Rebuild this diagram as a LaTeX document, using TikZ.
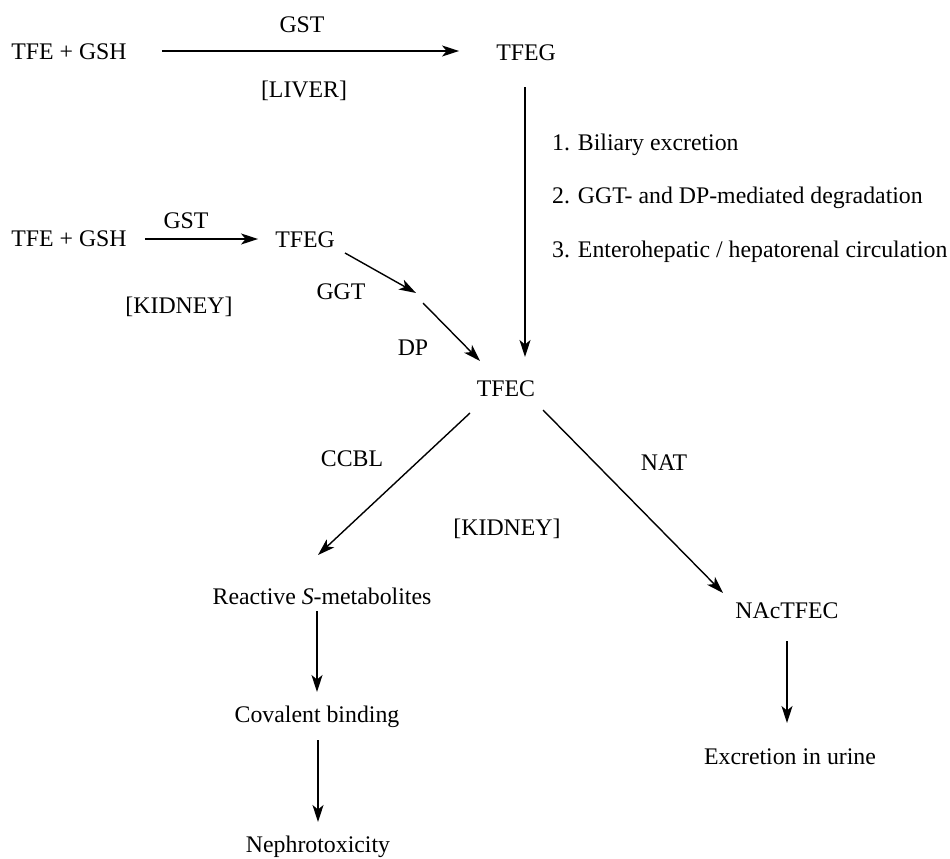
\documentclass[tikz,border=0pt]{standalone}
\usepackage{fontspec}
\setmainfont{Liberation Serif}
\usetikzlibrary{arrows.meta,calc}
\begin{document}
\begin{tikzpicture}[x=1pt,y=-1pt,
  lbl/.style={inner sep=0pt, text height=15.5pt, text depth=0pt, font=\fontsize{23.8}{28}\selectfont},
  arr/.style={line width=1.4pt, -{Stealth[length=17pt,width=11pt,inset=4.5pt]}}]
\useasboundingbox[fill=white] (0,0) rectangle (950,859);
% liver
\node[lbl] (lTFE) at (69,52) {TFE + GSH};
\node[lbl] (lTFEG) at (526,53) {TFEG};
\node[lbl] (lGST) at (302,25) {GST};
\node[lbl] (liver) at (304,90) {[LIVER]};
\node[lbl, anchor=west] (s1) at (552,143) {1. Biliary excretion};
\node[lbl, anchor=west] (s2) at (552,196) {2. GGT- and DP-mediated degradation};
\node[lbl, anchor=west] (s3) at (552,250) {3. Enterohepatic / hepatorenal circulation};
% kidney
\node[lbl] (kTFE) at (69,239) {TFE + GSH};
\node[lbl] (kTFEG) at (305,240) {TFEG};
\node[lbl] (kGST) at (186,221) {GST};
\node[lbl] (kid1) at (179,306) {[KIDNEY]};
\node[lbl] (ggt) at (341,292) {GGT};
\node[lbl] (dp) at (413,348) {DP};
\node[lbl] (tfec) at (506,389) {TFEC};
\node[lbl] (ccbl) at (352,459) {CCBL};
\node[lbl] (nat) at (664,463) {NAT};
\node[lbl] (kid2) at (507,528) {[KIDNEY]};
\node[lbl] (re) at (322,597) {Reactive \textit{S}-metabolites};
\node[lbl] (cb) at (317,715) {Covalent binding};
\node[lbl] (ne) at (318,845) {Nephrotoxicity};
\node[lbl] (nac) at (787,611) {NAcTFEC};
\node[lbl] (ex) at (790,757) {Excretion in urine};
\coordinate (k1) at (416,293);
\coordinate (k2) at (423,303);
% connectors
\draw[arr] ($(lTFE.east)+(35,-1)$) -- ($(lTFEG.west)+(-37,-2)$);
\draw[arr] ($(lTFEG)+(-1,34)$) -- ($(tfec)+(19,-32)$);
\draw[arr] ($(kTFE.east)+(18,0)$) -- ($(kTFEG.west)+(-17,-1)$);
\draw[arr] ($(kTFEG)+(40,13)$) -- (k1);
\draw[arr] (k2) -- ($(tfec)+(-26,-28)$);
\draw[arr] ($(tfec)+(-36,24)$) -- ($(re)+(-4,-42)$);
\draw[arr] ($(tfec)+(37,21)$) -- ($(nac)+(-64,-18)$);
\draw[arr] ($(re)+(-5,14)$) -- ($(cb)+(0,-23)$);
\draw[arr] ($(cb)+(1,25)$) -- ($(ne)+(0,-23)$);
\draw[arr] ($(nac)+(0,30)$) -- ($(ex)+(-3,-34)$);
\end{tikzpicture}
\end{document}
